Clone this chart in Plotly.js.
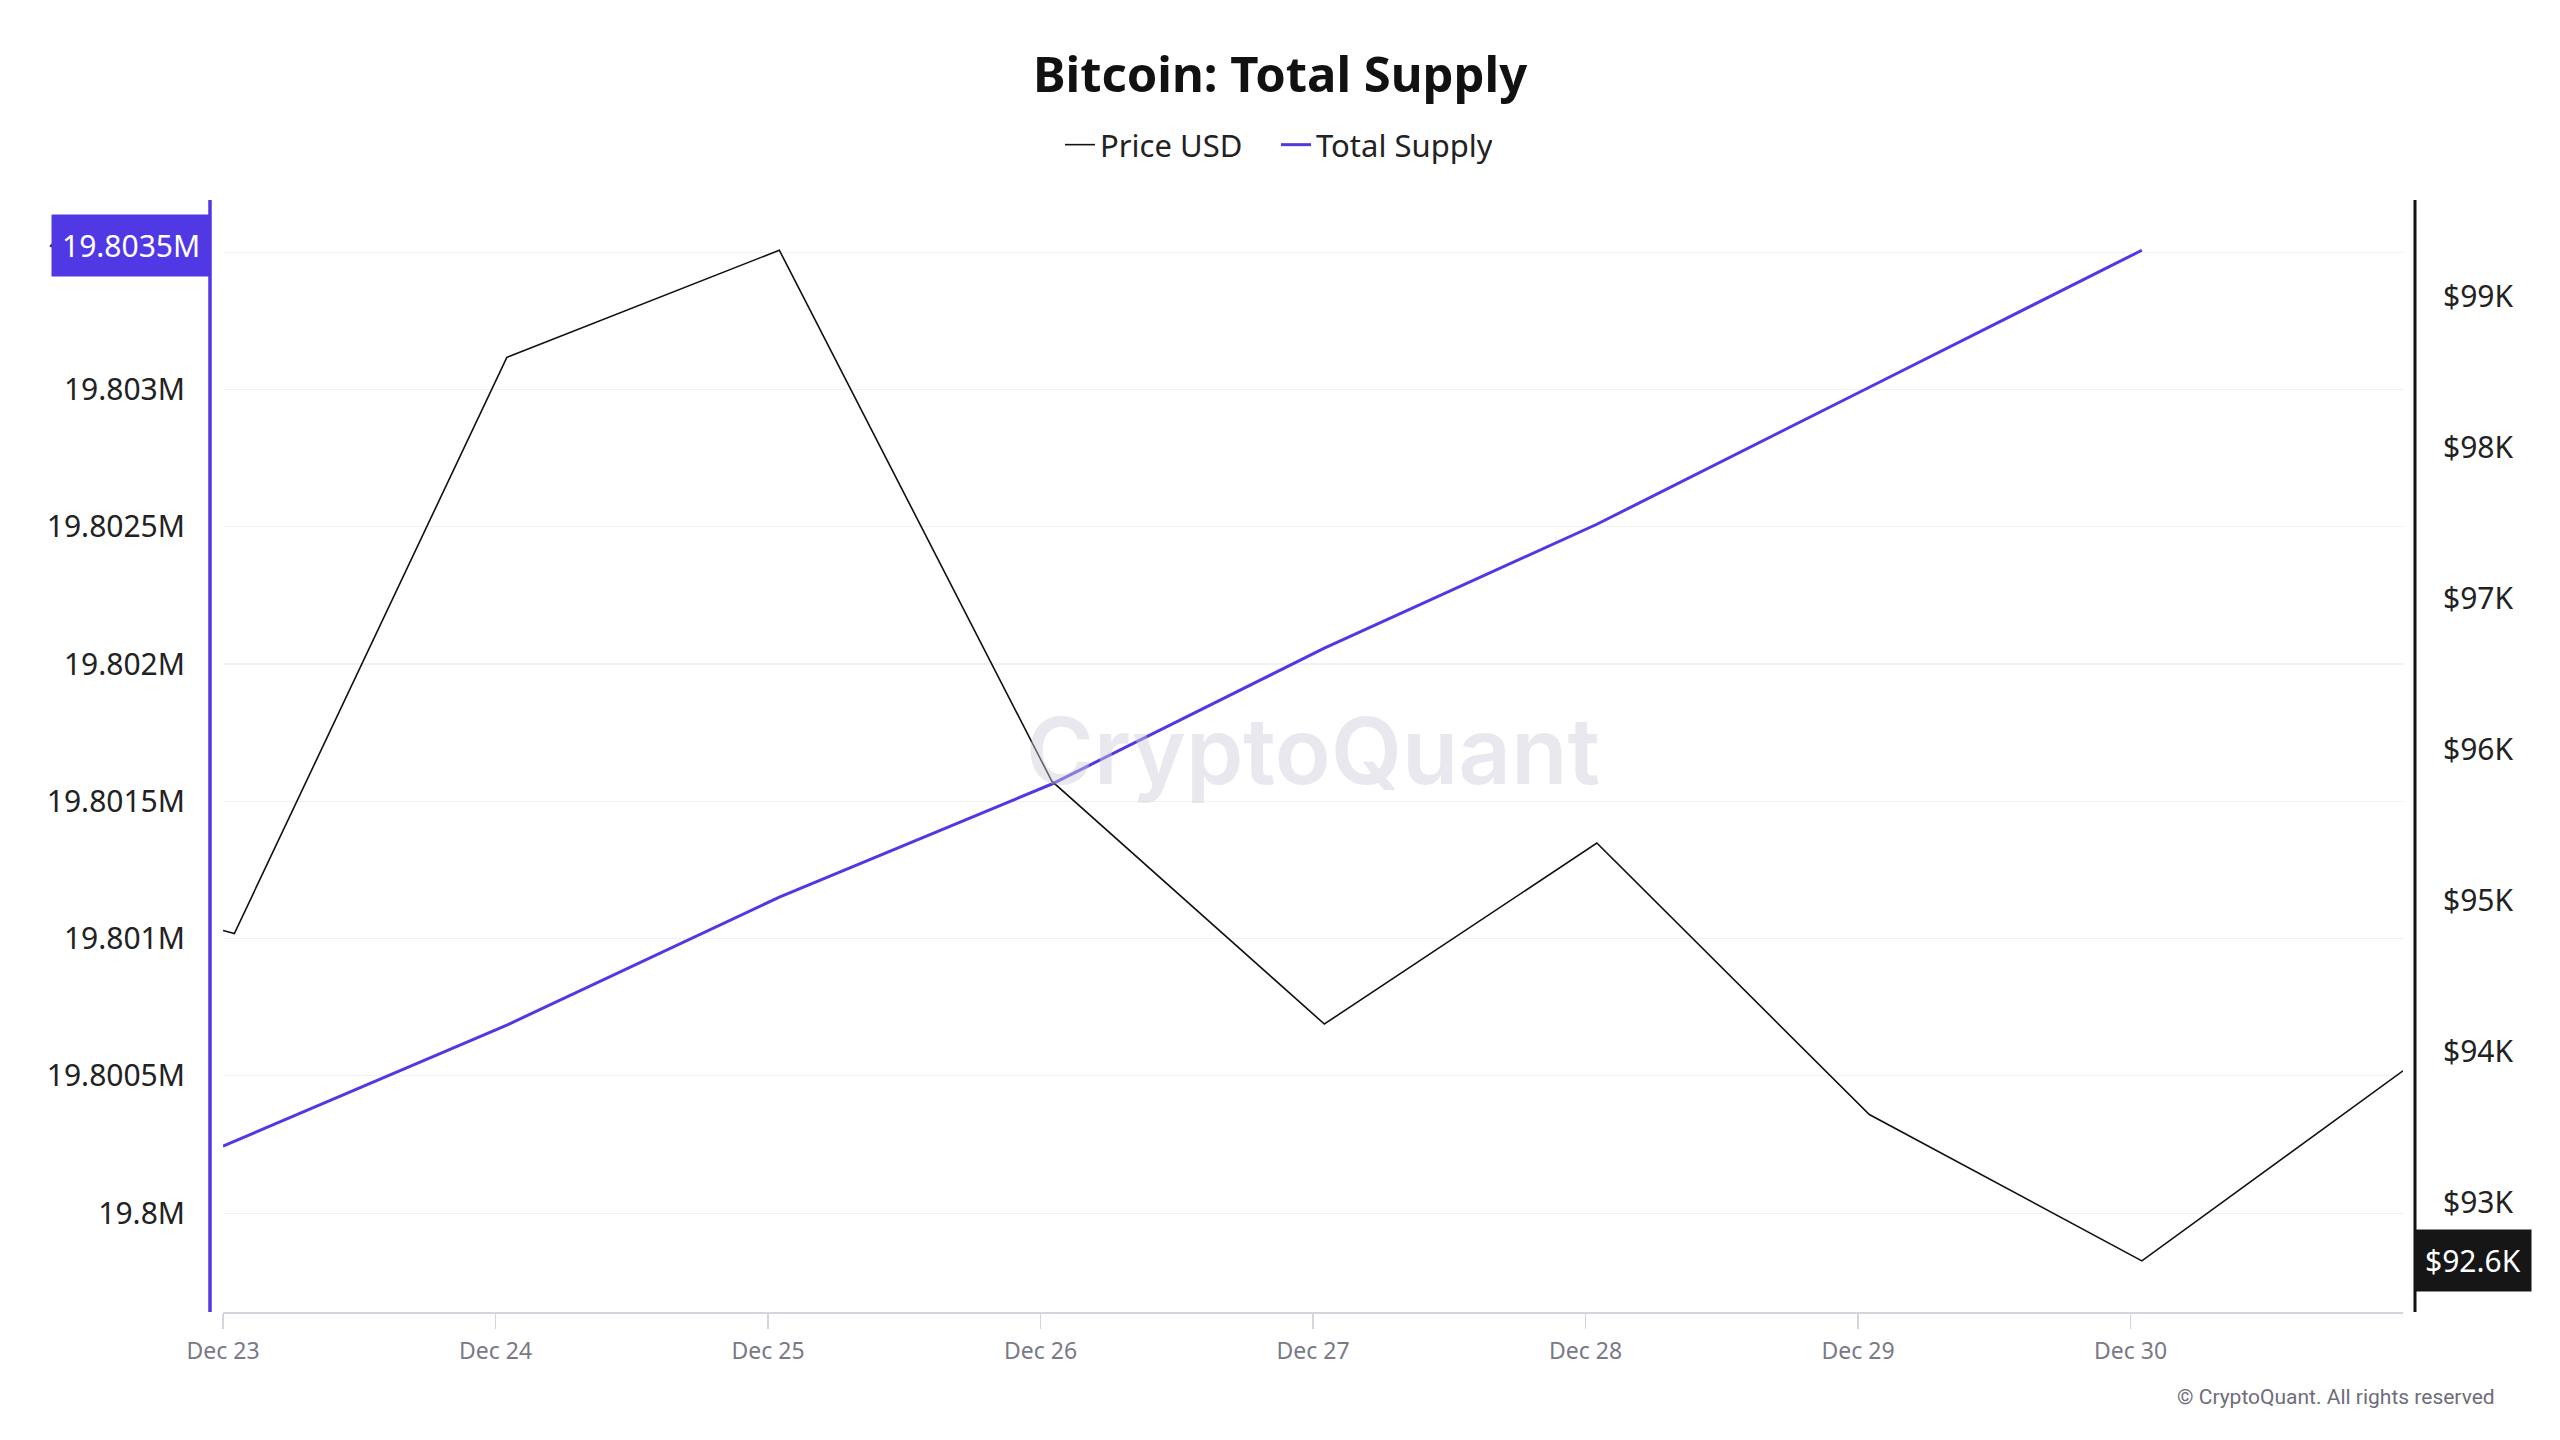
<!DOCTYPE html>
<html>
<head>
<meta charset="utf-8">
<script src="https://cdn.plot.ly/plotly-3.0.1.min.js"></script>
<style>html,body{margin:0;padding:0;background:#fff;}#chart{width:2560px;height:1440px;}</style>
</head>
<body>
<div id="chart"></div>
<script>
// ---- data ----
const priceDates = ['2024-12-23 00:00','2024-12-23 01:00','2024-12-24 01:00','2024-12-25 01:00','2024-12-26 01:00','2024-12-27 01:00','2024-12-28 01:00','2024-12-29 01:00','2024-12-30 01:00','2024-12-31 00:00'];
const priceUSD = [94800, 94780, 98600, 99310, 95790, 94180, 95380, 93580, 92610, 93870];
const supplyDates = ['2024-12-23 00:00','2024-12-24 01:00','2024-12-25 01:00','2024-12-26 01:00','2024-12-27 01:00','2024-12-28 01:00','2024-12-29 01:00','2024-12-30 01:00'];
const totalSupply = [19800244, 19800685, 19801151, 19801563, 19802058, 19802509, 19803008, 19803507];
const xTickVals = ['2024-12-23','2024-12-24','2024-12-25','2024-12-26','2024-12-27','2024-12-28','2024-12-29','2024-12-30'];
const xTickText = ['Dec 23','Dec 24','Dec 25','Dec 26','Dec 27','Dec 28','Dec 29','Dec 30'];
const yTickVals = [19800000, 19800500, 19801000, 19801500, 19802000, 19802500, 19803000, 19803500];
const yTickText = ['19.8M','19.8005M','19.801M','19.8015M','19.802M','19.8025M','19.803M','19.8035M'];
const y2TickVals = [93000, 94000, 95000, 96000, 97000, 98000, 99000];
const y2TickText = ['$93K','$94K','$95K','$96K','$97K','$98K','$99K'];
const lastSupplyLabel = '19.8035M';
const lastPriceLabel = '$92.6K';

const PURPLE = '#5138e5';
const FONT = 'Noto Sans, Open Sans, sans-serif';

const traces = [
  {x: priceDates, y: priceUSD, name: 'Price USD', type: 'scatter', mode: 'lines', yaxis: 'y2',
   line: {color: '#111111', width: 1.6}},
  {x: supplyDates, y: totalSupply, name: 'Total Supply', type: 'scatter', mode: 'lines', yaxis: 'y',
   line: {color: PURPLE, width: 3}}
];

const W = 2560, H = 1440;
const L = 223, R = 157, T = 200, B = 128;
const pw = W - L - R, ph = H - T - B;
const px = v => (v - L) / pw;
const py = v => (H - B - v) / ph;

const layout = {
  width: W, height: H,
  paper_bgcolor: '#ffffff', plot_bgcolor: '#ffffff',
  margin: {l: L, r: R, t: T, b: B, pad: 0},
  font: {family: FONT, color: '#222222'},
  title: {text: '<b>Bitcoin: Total Supply</b>', x: 0.5, xanchor: 'center', xref: 'container',
          y: 1 - 75 / H, yanchor: 'middle', yref: 'container',
          font: {family: FONT, size: 49, color: '#111111'}},
  showlegend: true,
  legend: {orientation: 'h', x: px(1276), xanchor: 'center', y: py(145), yanchor: 'middle',
           font: {family: FONT, size: 31, color: '#222222'}, itemwidth: 30, tracegroupgap: 0,
           entrywidth: 171, entrywidthmode: 'pixels',
           bgcolor: 'rgba(0,0,0,0)'},
  hovermode: false,
  xaxis: {type: 'date', range: ['2024-12-23 00:00', '2024-12-31 00:00'],
          tickvals: xTickVals, ticktext: xTickText, ticks: 'outside', ticklen: 15, tickwidth: 1.5,
          tickcolor: '#d4d4dc', showline: true, linecolor: '#d4d4dc', linewidth: 1.5,
          showgrid: false, zeroline: false, tickfont: {family: FONT, size: 23, color: '#7a7985'},
          ticklabelstandoff: 3},
  yaxis: {range: [19799640, 19803690], tickvals: yTickVals, ticktext: yTickText,
          showgrid: true, gridcolor: '#f1f1f3', gridwidth: 1.2, zeroline: false, showline: false,
          ticks: '', tickfont: {family: FONT, size: 30, color: '#222222'}, ticklabelstandoff: 37},
  yaxis2: {range: [92271, 99643], tickvals: y2TickVals, ticktext: y2TickText, overlaying: 'y', side: 'right',
           showgrid: false, zeroline: false, showline: false, ticks: '',
           tickfont: {family: FONT, size: 30, color: '#222222'}, ticklabelstandoff: 39},
  shapes: [
    {type: 'line', xref: 'paper', yref: 'paper', x0: px(210), x1: px(210), y0: 0, y1: 1,
     line: {color: PURPLE, width: 3.5}},
    {type: 'line', xref: 'paper', yref: 'paper', x0: px(2415), x1: px(2415), y0: 0, y1: 1,
     line: {color: '#111111', width: 3}}
  ],
  annotations: [
    {text: 'CryptoQuant', xref: 'paper', yref: 'paper', x: px(1313), y: py(750), xanchor: 'center', yanchor: 'middle',
     showarrow: false, font: {family: 'Inter, sans-serif', size: 92, color: 'rgba(205,205,218,0.45)', weight: 600}},
    {text: lastSupplyLabel, xref: 'paper', yref: 'y', x: px(211), y: totalSupply[totalSupply.length - 1],
     yshift: 5, xanchor: 'right', yanchor: 'middle', showarrow: false, bgcolor: PURPLE, borderpad: 10,
     font: {family: FONT, size: 30, color: '#ffffff'}},
    {text: lastPriceLabel, xref: 'paper', yref: 'y2', x: px(2414), y: priceUSD[priceUSD.length - 2],
     xanchor: 'left', yanchor: 'middle', showarrow: false, bgcolor: '#161616', borderpad: 10,
     font: {family: FONT, size: 30, color: '#ffffff'}},
    {text: '© CryptoQuant. All rights reserved', xref: 'paper', yref: 'paper', x: px(2497), y: py(1397),
     xanchor: 'right', yanchor: 'middle', showarrow: false,
     font: {family: 'Roboto, sans-serif', size: 21, color: '#6e6d7a'}}
  ]
};

Plotly.newPlot('chart', traces, layout, {displayModeBar: false, staticPlot: true});
</script>
</body>
</html>
